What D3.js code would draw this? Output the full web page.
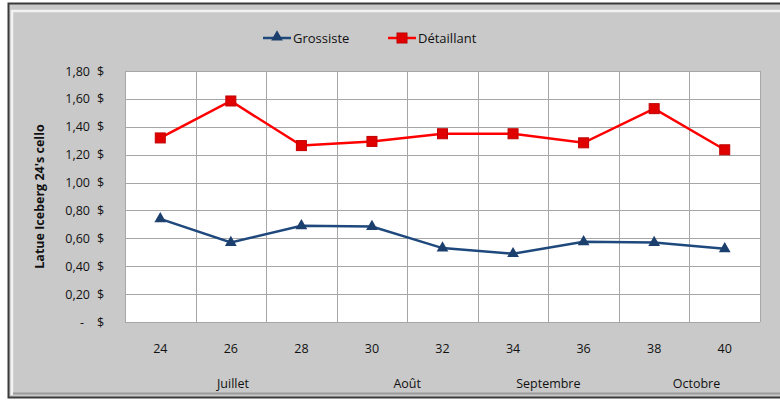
<!DOCTYPE html>
<html lang="fr">
<head>
  <meta charset="utf-8">
  <title>Latue Iceberg 24's cello</title>
  <script src="https://d3js.org/d3.v7.min.js"></script>
  <style>
    html, body { margin: 0; padding: 0; background: #fff; }
    svg { display: block; font-family: "Open Sans", "Noto Sans", sans-serif; }
    .grid line { stroke: #a6a6a6; stroke-width: 1px; }
    .tick-label { font-size: 12.5px; fill: #111; }
  </style>
</head>
<body>
  <svg width="780" height="400"></svg>
  <script>
    // semaines
    const weeks = [24, 26, 28, 30, 32, 34, 36, 38, 40];
    // prix par caisse
    const grossiste  = [0.74, 0.57, 0.69, 0.685, 0.53, 0.49, 0.575, 0.57, 0.525];
    const detaillant = [1.32, 1.585, 1.265, 1.295, 1.35, 1.35, 1.285, 1.53, 1.235];
    const yTicks = [0, 0.2, 0.4, 0.6, 0.8, 1.0, 1.2, 1.4, 1.6, 1.8];
    // mois et leur position (en index de semaine)
    const months = ["Juillet", "Août", "Septembre", "Octobre"];
    const monthPos = [1.03, 3.5, 5.5, 7.6];

    const svg = d3.select("svg");
    const W = 780, H = 400;
    const plot = { left: 125, right: 760, top: 71, bottom: 322 };

    // cadre gris
    svg.append("rect").attr("x", 8.5).attr("y", 3.5).attr("width", W).attr("height", 394)
      .attr("fill", "#c9c9c9").attr("stroke", "#3a3a3a").attr("stroke-width", 2);
    svg.append("path").attr("d", "M12,395 V11 H780")
      .attr("fill", "none").attr("stroke", "#f2f2f2").attr("stroke-width", 2.5);
    svg.append("path").attr("d", "M13,393.5 H780")
      .attr("fill", "none").attr("stroke", "#9a9a9a").attr("stroke-width", 2);

    const x = d3.scaleBand().domain(weeks).range([plot.left, plot.right]);
    const y = d3.scaleLinear().domain([0, 1.8]).range([plot.bottom, plot.top]);

    // zone du graphique
    svg.append("rect").attr("x", plot.left).attr("y", plot.top)
      .attr("width", plot.right - plot.left).attr("height", plot.bottom - plot.top)
      .attr("fill", "#fff");

    const grid = svg.append("g").attr("class", "grid");
    grid.selectAll(".h").data(yTicks).join("line")
      .attr("x1", plot.left).attr("x2", plot.right)
      .attr("y1", d => Math.round(y(d)) + 0.5).attr("y2", d => Math.round(y(d)) + 0.5);
    const edges = weeks.map(w => x(w)).concat([plot.right]);
    grid.selectAll(".v").data(edges).join("line")
      .attr("x1", d => Math.round(d) + 0.5).attr("x2", d => Math.round(d) + 0.5)
      .attr("y1", plot.top).attr("y2", plot.bottom);

    // axe Y (format comptable)
    const yl = svg.append("g");
    yTicks.forEach(t => {
      const yy = y(t) + 4.5;
      yl.append("text").attr("class", "tick-label").attr("x", 90).attr("y", yy)
        .attr("text-anchor", "end").text(t === 0 ? "-" : d3.format(".2f")(t).replace(".", ","));
      yl.append("text").attr("class", "tick-label").attr("x", 97).attr("y", yy).text("$");
    });
    yl.selectAll("text").filter(function () { return this.textContent === "-"; }).attr("x", 84);

    svg.append("text")
      .attr("transform", `translate(44,${(plot.top + plot.bottom) / 2}) rotate(-90)`)
      .attr("text-anchor", "middle").attr("font-size", 12.5).attr("font-weight", "bold")
      .attr("fill", "#111").text("Latue Iceberg 24's cello");

    // axe X
    svg.append("g").selectAll("text").data(weeks).join("text")
      .attr("class", "tick-label").attr("x", d => x(d) + x.bandwidth() / 2).attr("y", 353)
      .attr("text-anchor", "middle").text(d => d);

    svg.append("g").selectAll("text").data(months).join("text")
      .attr("class", "tick-label").attr("font-size", 12.5)
      .attr("x", (d, i) => plot.left + x.step() * (monthPos[i] + 0.5)).attr("y", 388)
      .attr("text-anchor", "middle").text(d => d);

    const cx = (d, i) => x(weeks[i]) + x.bandwidth() / 2;
    const line = d3.line().x(cx).y(d => y(d));

    const defs = svg.append("defs");
    const f = defs.append("filter").attr("id", "soft");
    f.append("feGaussianBlur").attr("stdDeviation", 0.5);

    // Détaillant
    svg.append("path").datum(detaillant).attr("d", line)
      .attr("fill", "none").attr("stroke", "#ff0000").attr("stroke-width", 2.5);
    svg.append("g").selectAll("rect").data(detaillant).join("rect")
      .attr("x", (d, i) => cx(d, i) - 5).attr("y", d => y(d) - 5)
      .attr("width", 10).attr("height", 10).attr("fill", "#e00000")
      .attr("stroke", "#c00000").attr("stroke-width", 1).attr("filter", "url(#soft)");

    // Grossiste
    const tri = d3.symbol().type(d3.symbolTriangle).size(60);
    svg.append("path").datum(grossiste).attr("d", line)
      .attr("fill", "none").attr("stroke", "#1f497d").attr("stroke-width", 2.5);
    svg.append("g").selectAll("path").data(grossiste).join("path")
      .attr("d", tri).attr("transform", (d, i) => `translate(${cx(d, i)},${y(d)})`)
      .attr("fill", "#1f3f6e").attr("filter", "url(#soft)");

    // légende
    const legend = [
      { name: "Grossiste", color: "#1f497d", x: 263, shape: "tri" },
      { name: "Détaillant", color: "#ff0000", x: 388, shape: "sq" }
    ];
    const lg = svg.append("g");
    legend.forEach(l => {
      lg.append("line").attr("x1", l.x).attr("x2", l.x + 28).attr("y1", 38).attr("y2", 38)
        .attr("stroke", l.color).attr("stroke-width", 2.5);
      if (l.shape === "tri") {
        lg.append("path").attr("d", tri).attr("transform", `translate(${l.x + 14},37)`)
          .attr("fill", "#1f3f6e").attr("filter", "url(#soft)");
      } else {
        lg.append("rect").attr("x", l.x + 9).attr("y", 33).attr("width", 10).attr("height", 10)
          .attr("fill", "#e00000").attr("stroke", "#c00000").attr("filter", "url(#soft)");
      }
      lg.append("text").attr("x", l.x + 30).attr("y", 42.5).attr("font-size", 13)
        .attr("fill", "#111").text(l.name);
    });
  </script>
</body>
</html>
